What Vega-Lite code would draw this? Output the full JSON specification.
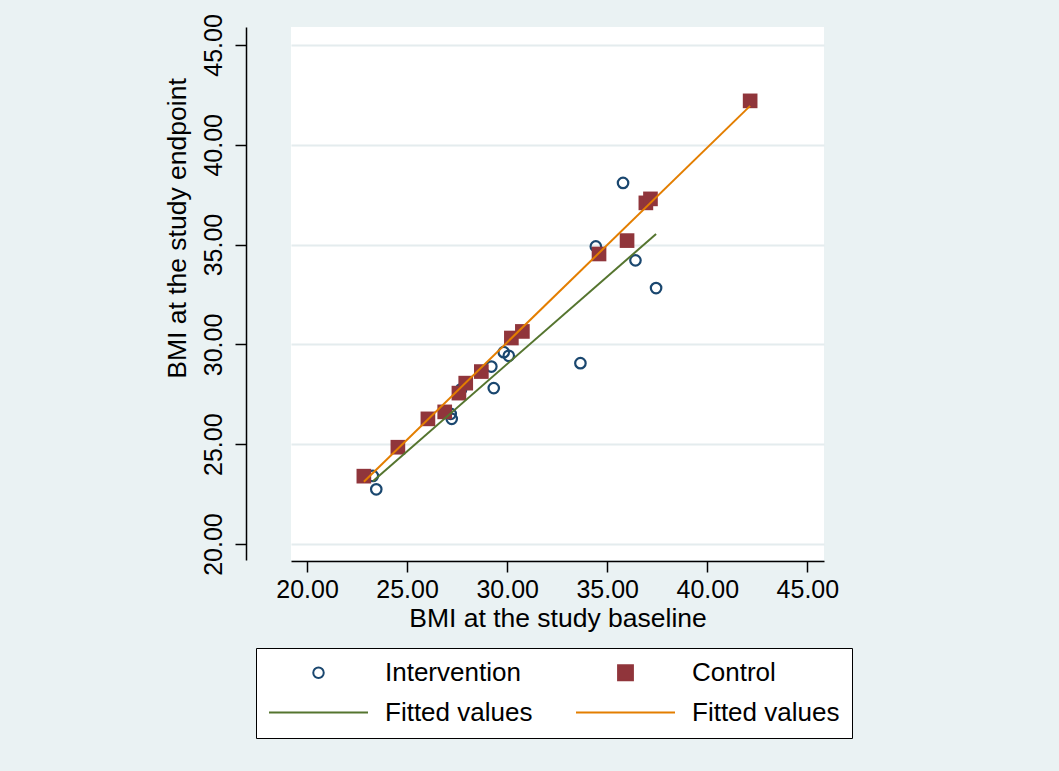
{
  "$schema": "https://vega.github.io/schema/vega-lite/v6.json",
  "width": 533,
  "height": 533,
  "autosize": {"type": "none"},
  "padding": {"left": 291, "top": 27, "right": 235, "bottom": 211},
  "background": "#eaf2f3",
  "config": {
    "view": {"fill": "white", "stroke": null},
    "font": "Liberation Sans",
    "axis": {
      "labelFont": "Liberation Sans",
      "titleFont": "Liberation Sans",
      "labelColor": "black",
      "titleColor": "black",
      "labelFontSize": 25,
      "titleFontSize": 26.5,
      "titleFontWeight": "normal",
      "tickColor": "black",
      "tickSize": 11,
      "tickWidth": 1.5,
      "domainColor": "black",
      "domainWidth": 1.5
    }
  },
  "data": {
    "values": [
      {"series": "Intervention", "x": 23.29, "y": 23.41},
      {"series": "Intervention", "x": 23.46, "y": 22.74},
      {"series": "Intervention", "x": 27.18, "y": 26.52},
      {"series": "Intervention", "x": 27.23, "y": 26.27},
      {"series": "Intervention", "x": 27.7, "y": 27.75},
      {"series": "Intervention", "x": 29.21, "y": 28.89},
      {"series": "Intervention", "x": 29.33, "y": 27.81},
      {"series": "Intervention", "x": 29.83, "y": 29.61},
      {"series": "Intervention", "x": 30.08, "y": 29.43},
      {"series": "Intervention", "x": 33.66, "y": 29.06},
      {"series": "Intervention", "x": 34.43, "y": 34.91},
      {"series": "Intervention", "x": 35.79, "y": 38.09},
      {"series": "Intervention", "x": 36.41, "y": 34.21},
      {"series": "Intervention", "x": 37.44, "y": 32.82},
      {"series": "Control", "x": 22.84, "y": 23.4},
      {"series": "Control", "x": 24.54, "y": 24.85},
      {"series": "Control", "x": 26.04, "y": 26.27},
      {"series": "Control", "x": 26.88, "y": 26.62},
      {"series": "Control", "x": 27.59, "y": 27.56},
      {"series": "Control", "x": 27.93, "y": 28.06},
      {"series": "Control", "x": 28.71, "y": 28.64},
      {"series": "Control", "x": 30.21, "y": 30.32},
      {"series": "Control", "x": 30.76, "y": 30.65},
      {"series": "Control", "x": 34.59, "y": 34.53},
      {"series": "Control", "x": 35.99, "y": 35.2},
      {"series": "Control", "x": 36.93, "y": 37.09},
      {"series": "Control", "x": 37.16, "y": 37.29},
      {"series": "Control", "x": 42.14, "y": 42.2},
      {"series": "Fitted values (Intervention)", "x": 23.29, "y": 23.15},
      {"series": "Fitted values (Intervention)", "x": 37.44, "y": 35.53},
      {"series": "Fitted values (Control)", "x": 22.84, "y": 23.12},
      {"series": "Fitted values (Control)", "x": 42.14, "y": 41.95}
    ]
  },
  "encoding": {
    "x": {
      "field": "x",
      "type": "quantitative",
      "scale": {"domain": [19.2, 45.83], "nice": false, "zero": false},
      "axis": {
        "orient": "bottom",
        "offset": 1,
        "values": [20, 25, 30, 35, 40, 45],
        "format": ".2f",
        "labelPadding": 5,
        "grid": false,
        "title": "BMI at the study baseline",
        "titlePadding": 3
      }
    },
    "y": {
      "field": "y",
      "type": "quantitative",
      "scale": {"domain": [19.2, 45.9], "nice": false, "zero": false},
      "axis": {
        "orient": "left",
        "offset": 45,
        "values": [20, 25, 30, 35, 40, 45],
        "format": ".2f",
        "labelAngle": -90,
        "labelAlign": "center",
        "labelBaseline": "bottom",
        "labelPadding": 9,
        "grid": true,
        "gridColor": "#e4ecee",
        "gridWidth": 2,
        "title": "BMI at the study endpoint",
        "titleY": 201,
        "titlePadding": 10
      }
    },
    "color": {
      "field": "series",
      "type": "nominal",
      "scale": {
        "domain": ["Intervention", "Control", "Fitted values (Intervention)", "Fitted values (Control)"],
        "range": ["#1a476f", "#90353b", "#55752f", "#e37e00"]
      },
      "legend": {
        "orient": "none",
        "legendX": -35,
        "legendY": 621,
        "title": null,
        "columns": 2,
        "direction": "horizontal",
        "symbolSize": 9801,
        "clipHeight": 25,
        "rowPadding": 13,
        "columnPadding": 42,
        "labelOffset": 16,
        "labelFontSize": 26,
        "labelFont": "Liberation Sans",
        "labelColor": "black",
        "labelLimit": 0,
        "padding": 12,
        "strokeColor": "black",
        "fillColor": "white",
        "labelExpr": "datum.label === 'Intervention' || datum.label === 'Control' ? datum.label : 'Fitted values'",
        "encode": {
          "symbols": {
            "update": {
              "shape": {"signal": "datum.value === 'Intervention' ? 'circle' : datum.value === 'Control' ? 'square' : 'stroke'"},
              "size": {"signal": "datum.value === 'Intervention' ? 110 : datum.value === 'Control' ? 220 : 9801"},
              "fill": {"signal": "datum.value === 'Control' ? '#90353b' : 'rgba(0,0,0,0)'"},
              "fillOpacity": {"signal": "datum.value === 'Control' ? 1 : 0"},
              "stroke": {"signal": "datum.value === 'Intervention' ? '#1a476f' : datum.value === 'Fitted values (Intervention)' ? '#55752f' : datum.value === 'Fitted values (Control)' ? '#e37e00' : 'rgba(0,0,0,0)'"},
              "strokeWidth": {"value": 2},
              "opacity": {"value": 1}
            }
          }
        }
      }
    }
  },
  "layer": [
    {
      "transform": [{"filter": "datum.series === 'Intervention'"}],
      "mark": {"type": "point", "shape": "circle", "filled": false, "size": 110, "strokeWidth": 2.2, "opacity": 1}
    },
    {
      "transform": [{"filter": "datum.series === 'Control'"}],
      "mark": {"type": "square", "size": 215, "opacity": 1}
    },
    {
      "transform": [{"filter": "datum.series !== 'Intervention' && datum.series !== 'Control'"}],
      "mark": {"type": "line", "strokeWidth": 2}
    }
  ]
}
